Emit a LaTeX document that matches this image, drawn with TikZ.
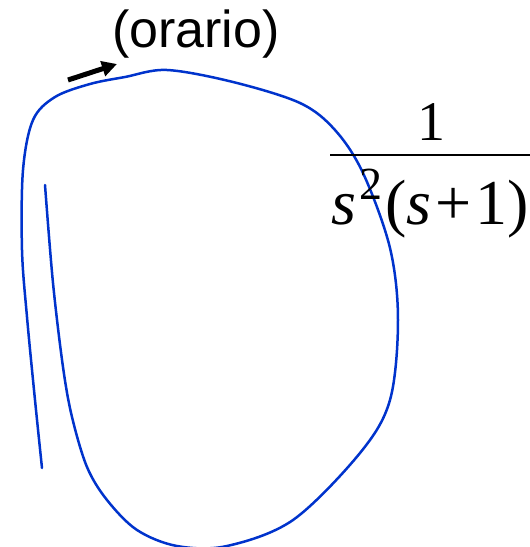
\documentclass[tikz,border=0pt]{standalone}
\usepackage{fontspec}
\setmainfont{Liberation Sans}
\newfontfamily\timesfont{Liberation Serif}
\usetikzlibrary{arrows.meta}
\definecolor{loopblue}{RGB}{0,51,204}

\begin{document}
\begin{tikzpicture}[x=1pt,y=-1pt,
 curve/.style={draw=loopblue,line width=2.5pt,line cap=round},
 arr/.style={-{Triangle[length=15pt,width=15pt]},line width=5pt},
 lbl/.style={inner sep=0pt,font=\fontsize{52}{56}\selectfont},
 frac/.style={inner sep=0pt,anchor=base,font=\timesfont\fontsize{64}{68}\selectfont}]
\useasboundingbox (0,0) rectangle (530,547);
\node[lbl] (dir) at (196,34) {(orario)};
\coordinate (tail) at (68,80);
\coordinate (tip) at (117,64);
\draw[arr] (tail)--(tip);
\draw[curve] plot[smooth,tension=0.55] coordinates {(42,468) (35,400) (27,317) (22,250) (23,170) (33,120) (55,97) (90,84) (125,77) (167,70) (233,82) (300,103) (335,130) (363,173) (390,248) (398,320) (390,400) (360,453) (293,520) (227,546) (177,546) (137,530) (107,500) (87,467) (72,417) (63,367) (53,283) (45,185)};
\node[frac,font=\timesfont\fontsize{56}{60}\selectfont] (num) at (431,140) {1};
\draw[line width=1.4pt] (330,155)--(530,155);
\node[frac,anchor=base west] (den) at (331,224) {\textit{s}\kern3pt\raisebox{25pt}{\fontsize{46}{50}\selectfont 2}\kern3pt(\textit{s}\kern4pt+\kern4pt1)};
\end{tikzpicture}
\end{document}
